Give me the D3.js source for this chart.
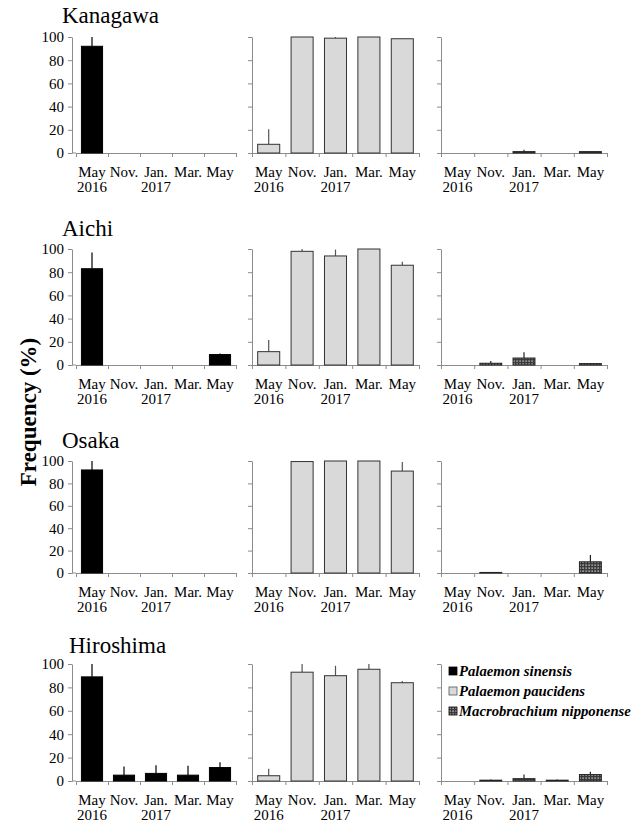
<!DOCTYPE html>
<html>
<head>
<meta charset="utf-8">
<script src="https://cdn.jsdelivr.net/npm/d3@7"></script>
<style>
  body { margin: 0; background: #fff; }
  svg text { font-family: 'Liberation Serif', 'DejaVu Serif', serif; }
</style>
</head>
<body>
<div id="graph0"></div>
<script>
// ------- data --------

var sites = ['Kanagawa', 'Aichi', 'Osaka', 'Hiroshima'];
var months = ['May 2016', 'Nov. 2016', 'Jan. 2017', 'Mar. 2017', 'May 2017'];
var monthLines = [['May', '2016'], ['Nov.'], ['Jan.', '2017'], ['Mar.'], ['May']];
var yTicks = [0, 20, 40, 60, 80, 100];
var species = ['Palaemon sinensis', 'Palaemon paucidens', 'Macrobrachium nipponense'];

// mean frequency (%) per site, per month
var sinensisMean = [[92, 0, 0, 0, 0], [83, 0, 0, 0, 9], [92, 0, 0, 0, 0], [89, 5, 6.5, 5, 11.5]];
var sinensisErr = [[8, 0, 0, 0, 0], [14, 0, 0, 0, 1], [8, 0, 0, 0, 0], [11, 7.5, 7, 8, 4.5]];
var paucidensMean = [[7.5, 100, 99, 100, 98.5], [11.5, 98, 94, 100, 86], [0, 99.5, 100, 100, 91], [4.5, 93, 90, 95.5, 84]];
var paucidensErr = [[13, 0, 1, 0, 0], [10, 2, 5.5, 0, 3], [0, 0.5, 0, 0, 8], [6, 7, 8.5, 4.5, 1.5]];
var nipponenseMean = [[0, 0, 1.2, 0, 1.2], [0, 1.5, 6, 0, 1.2], [0, 0.5, 0, 0, 10], [0, 0.7, 2, 0.7, 5.5]];
var nipponenseErr = [[0, 0, 1.5, 0, 0], [0, 2, 5, 0, 0.5], [0, 0, 0, 0, 6], [0, 0.5, 3.5, 0.5, 2.5]];

// ------- layout --------

var width = 631, height = 826;
var serif = 'Liberation Serif';
// [y of 0, y of 100, title baseline, title x]
var rows = [[153, 37, 23, 62], [365, 249, 236, 62], [573, 461, 448, 62], [781, 664, 653, 69]];
// [x start, x end, y axis offset]
var cols = [[76, 236, 4], [252, 419, 0], [441, 607, 0]];
var axisColor = '#8c8c8c';

var svg = d3.select('#graph0')
    .append('svg')
    .attr('width', width)
    .attr('height', height)
    .attr('font-family', serif)

// hatch pattern for M. nipponense
var pat = svg.append('defs').append('pattern')
    .attr('id', 'check')
    .attr('patternUnits', 'userSpaceOnUse')
    .attr('width', 3).attr('height', 3)
pat.append('rect').attr('width', 3).attr('height', 3).attr('fill', '#3a3a3a')
pat.append('rect').attr('x', 0.5).attr('y', 0.5).attr('width', 1.2).attr('height', 1.2).attr('fill', '#f0f0f0')

var styles = [
    {fill: '#000', stroke: '#000', err: '#000'},
    {fill: '#d9d9d9', stroke: '#333', err: '#555'},
    {fill: 'url(#check)', stroke: '#222', err: '#222'}
];
var means = [sinensisMean, paucidensMean, nipponenseMean];
var errs = [sinensisErr, paucidensErr, nipponenseErr];

sites.forEach(function(site, r) {
    var row = rows[r];
    var y = d3.scaleLinear().domain([0, 100]).range([row[0], row[1]]);

    svg.append('text')
        .attr('x', row[3])
        .attr('y', row[2])
        .attr('font-family', serif)
        .style('font-size', '23px')
        .text(site)

    species.forEach(function(sp, c) {
        var col = cols[c];
        var x = d3.scaleBand()
            .domain(months)
            .range([col[0], col[1]])
            .paddingInner(0.34)
            .paddingOuter(0.17);
        var xEdge = d3.scaleLinear().domain([0, months.length]).range([col[0], col[1]]);

        var g = svg.append('g');

        // y axis
        var yAxis = d3.axisLeft(y)
            .tickValues(yTicks)
            .tickSize(4)
            .tickSizeOuter(0)
            .tickPadding(4)
            .tickFormat(c == 0 ? d3.format('d') : '');
        var ya = g.append('g')
            .attr('transform', 'translate(' + (col[0] - col[2]) + ',0)')
            .call(yAxis)
            .attr('font-family', serif);
        ya.select('.domain').attr('stroke', axisColor);
        ya.selectAll('line').attr('stroke', axisColor);
        ya.selectAll('text')
            .attr('font-size', 15)
            .attr('fill', '#000');

        // x axis: ticks at category edges
        var xAxis = d3.axisBottom(xEdge)
            .tickValues(d3.range(months.length + 1))
            .tickSize(4)
            .tickSizeOuter(0)
            .tickFormat('');
        var xa = g.append('g')
            .attr('transform', 'translate(0,' + row[0] + ')')
            .call(xAxis);
        xa.select('.domain').attr('stroke', axisColor);
        xa.selectAll('line').attr('stroke', axisColor);
        xa.append('line')
            .attr('x1', col[0] - col[2]).attr('x2', col[0])
            .attr('stroke', axisColor)

        // category labels
        var lab = g.selectAll('.lab')
            .data(months)
            .enter()
            .append('text')
            .attr('class', 'lab')
            .attr('text-anchor', 'middle')
            .attr('font-family', serif)
            .attr('transform', function(d) { return 'translate(' + (x(d) + x.bandwidth() / 2) + ',' + (row[0] + 24) + ')' })
            .style('font-size', '15px')
        lab.selectAll('tspan')
            .data(function(d, i) { return monthLines[i] })
            .enter()
            .append('tspan')
            .attr('x', 0)
            .attr('dy', function(d, i) { return i ? 14.5 : 0 })
            .text(function(d) { return d })

        var m = means[c][r], e = errs[c][r], st = styles[c];
        var data = months.map(function(d, i) { return {month: d, mean: m[i], err: e[i]} });

        // error bars (plus only)
        g.selectAll('.err')
            .data(data.filter(function(d) { return d.err > 0 }))
            .enter()
            .append('line')
            .attr('class', 'err')
            .attr('x1', function(d) { return x(d.month) + x.bandwidth() / 2 })
            .attr('x2', function(d) { return x(d.month) + x.bandwidth() / 2 })
            .attr('y1', function(d) { return y(d.mean) })
            .attr('y2', function(d) { return y(Math.min(100, d.mean + d.err)) })
            .attr('stroke', st.err)
            .attr('stroke-width', 1.2)

        g.selectAll('.bar')
            .data(data.filter(function(d) { return d.mean > 0 }))
            .enter()
            .append('rect')
            .attr('class', 'bar')
            .attr('x', function(d) { return x(d.month) })
            .attr('y', function(d) { return y(d.mean) })
            .attr('width', x.bandwidth())
            .attr('height', function(d) { return row[0] - y(d.mean) })
            .attr('fill', st.fill)
            .attr('stroke', st.stroke)
            .attr('stroke-width', 1)
    });
});

// y axis title
svg.append('text')
    .attr('transform', 'translate(36,412)rotate(-90)')
    .attr('text-anchor', 'middle')
    .attr('font-family', serif)
    .style('font-size', '23px')
    .style('font-weight', 'bold')
    .text('Frequency (%)')

// legend
var legend = svg.append('g')
    .selectAll('g')
    .data(species)
    .enter()
    .append('g')
    .attr('transform', function(d, i) { return 'translate(449,' + (667 + i * 20) + ')' })

legend.append('rect')
    .attr('width', 8).attr('height', 8)
    .attr('fill', function(d, i) { return styles[i].fill })
    .attr('stroke', function(d, i) { return i == 1 ? '#555' : '#000' })
    .attr('stroke-width', 0.8)

legend.append('text')
    .attr('x', 10)
    .attr('y', 8.5)
    .attr('font-family', serif)
    .style('font-size', '14.7px')
    .style('font-weight', 'bold')
    .style('font-style', 'italic')
    .text(function(d) { return d })
</script>
</body>
</html>
